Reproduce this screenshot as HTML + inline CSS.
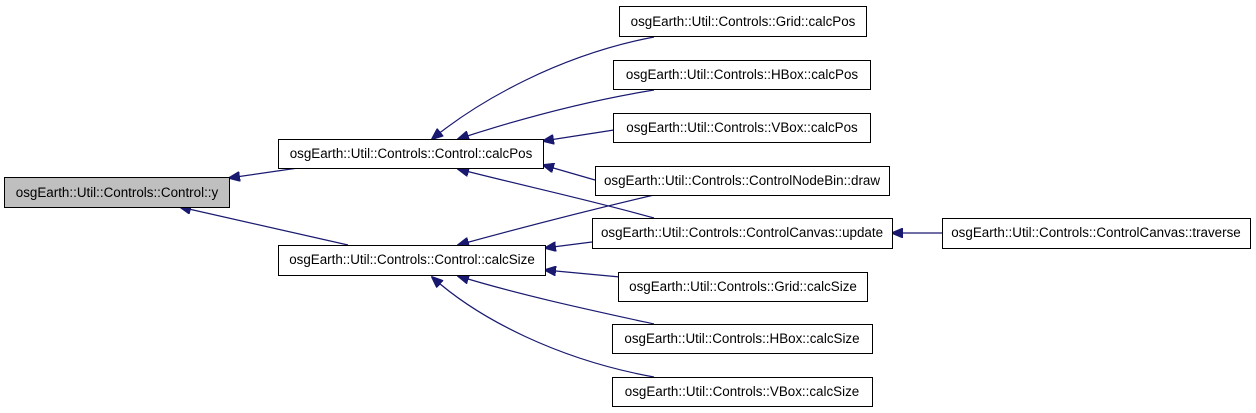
<!DOCTYPE html>
<html><head><meta charset="utf-8"><style>
html,body{margin:0;padding:0;background:#fff;width:1256px;height:413px;overflow:hidden}
text{font-family:"Liberation Sans",Arial,sans-serif;font-size:13.4px;fill:#000}
</style></head><body>
<svg width="1256" height="413" viewBox="0 0 1256 413" xmlns="http://www.w3.org/2000/svg">
<defs><marker id="a" markerWidth="12" markerHeight="10" refX="11" refY="5" orient="auto" markerUnits="userSpaceOnUse"><path d="M0,0 L12,5 L0,10 z" fill="#191970" stroke="#191970"/></marker></defs>
<g fill="none" stroke="#191970" stroke-width="1.2" marker-end="url(#a)">
<path d="M305,167 L229,178"/>
<path d="M348,245 L180,207"/>
<path d="M654,37 C560,55 480,100 432,139"/>
<path d="M654,90 C580,102 510,122 458,139"/>
<path d="M614,130 L543,141"/>
<path d="M595,180 L543,165"/>
<path d="M654,218 C590,200 520,185 458,169"/>
<path d="M654,195 C590,210 520,228 458,245"/>
<path d="M592,242 L545,248"/>
<path d="M620,277 L545,270"/>
<path d="M654,324 C590,310 520,295 458,276"/>
<path d="M654,377 C560,360 480,320 432,277"/>
<path d="M942,233 L892,233"/>
</g>
<g stroke="#000" stroke-width="1" fill="#fff">
<rect x="4.5" y="177.5" width="225" height="30" fill="#bfbfbf"/>
<rect x="278.5" y="139.5" width="265" height="29"/>
<rect x="278.5" y="245.5" width="267" height="30"/>
<rect x="619.5" y="6.5" width="247" height="30"/>
<rect x="613.5" y="60.5" width="257" height="29"/>
<rect x="613.5" y="113.5" width="257" height="29"/>
<rect x="595.5" y="166.5" width="294" height="29"/>
<rect x="592.5" y="218.5" width="300" height="30"/>
<rect x="942.5" y="218.5" width="308" height="30"/>
<rect x="618.5" y="272.5" width="249" height="29"/>
<rect x="612.5" y="324.5" width="260" height="29"/>
<rect x="612.5" y="377.5" width="260" height="29"/>
</g>
<g text-anchor="middle">
<text x="117" y="197">osgEarth::Util::Controls::Control::y</text>
<text x="411" y="158">osgEarth::Util::Controls::Control::calcPos</text>
<text x="412" y="264">osgEarth::Util::Controls::Control::calcSize</text>
<text x="743" y="26">osgEarth::Util::Controls::Grid::calcPos</text>
<text x="742" y="79">osgEarth::Util::Controls::HBox::calcPos</text>
<text x="742" y="132">osgEarth::Util::Controls::VBox::calcPos</text>
<text x="742" y="185">osgEarth::Util::Controls::ControlNodeBin::draw</text>
<text x="742" y="237">osgEarth::Util::Controls::ControlCanvas::update</text>
<text x="1096" y="237">osgEarth::Util::Controls::ControlCanvas::traverse</text>
<text x="743" y="291">osgEarth::Util::Controls::Grid::calcSize</text>
<text x="742" y="343">osgEarth::Util::Controls::HBox::calcSize</text>
<text x="742" y="396">osgEarth::Util::Controls::VBox::calcSize</text>
</g>
</svg>
</body></html>
